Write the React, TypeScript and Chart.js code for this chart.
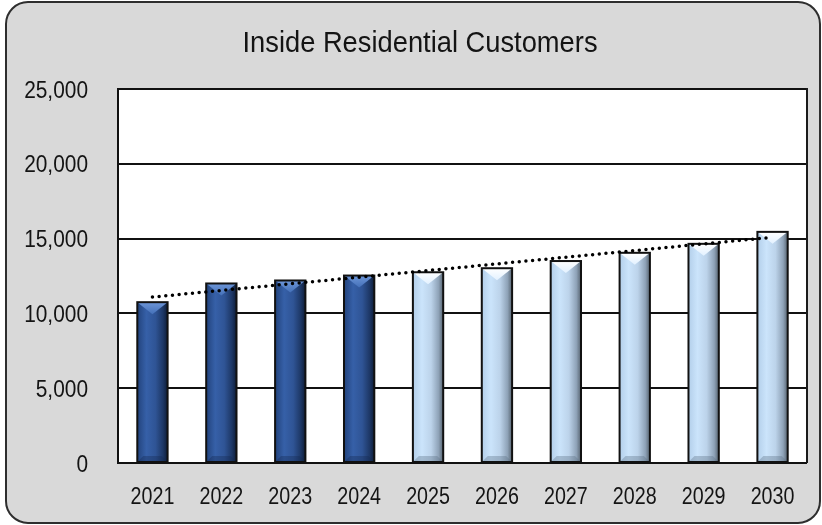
import React, { useEffect, useRef } from "react";
import { Chart, registerables } from "chart.js";

Chart.register(...registerables);

const years = ["2021", "2022", "2023", "2024", "2025", "2026", "2027", "2028", "2029", "2030"];
const customers = [10750, 12000, 12200, 12530, 12750, 13020, 13500, 14050, 14650, 15450];
const trend = [11090, 11535, 11980, 12420, 12865, 13310, 13755, 14200, 14645, 15090];
const historicalCount = 4;
const yTicks = [0, 5000, 10000, 15000, 20000, 25000];
const titleText = "Inside Residential Customers";

const FONT = "'Liberation Sans', Arial, sans-serif";

function narrowText(ctx: any, text: string, x: number, y: number, size: number, sx: number, align: string) {
  ctx.save();
  ctx.font = `${size}px ${FONT}`;
  ctx.fillStyle = "#141414";
  ctx.textBaseline = "alphabetic";
  ctx.textAlign = align;
  ctx.translate(x, y);
  ctx.scale(sx, 1);
  ctx.fillText(text, 0, 0);
  ctx.restore();
}

const framePlugin = {
  id: "frame",
  beforeDraw(chart: any) {
    const { ctx, chartArea } = chart;
    ctx.save();
    ctx.beginPath();
    ctx.roundRect(6, 2, 814, 521, 22);
    ctx.fillStyle = "#d9d9d9";
    ctx.fill();
    ctx.lineWidth = 2;
    ctx.strokeStyle = "#2e2e2e";
    ctx.stroke();
    ctx.fillStyle = "#ffffff";
    ctx.fillRect(chartArea.left, chartArea.top, chartArea.right - chartArea.left, chartArea.bottom - chartArea.top);
    ctx.restore();
  },
  beforeDatasetsDraw(chart: any) {
    const { ctx, chartArea } = chart;
    ctx.save();
    ctx.strokeStyle = "#1a1a1a";
    ctx.lineWidth = 2;
    ctx.beginPath();
    ctx.moveTo(chartArea.right, chartArea.top - 1);
    ctx.lineTo(chartArea.right, chartArea.bottom);
    ctx.stroke();
    ctx.restore();
  },
  afterDatasetDraw(chart: any, args: any) {
    if (args.index !== 0) return;
    const { ctx } = chart;
    args.meta.data.forEach((el: any, i: number) => {
      const dark = i < historicalCount;
      const left = el.x - el.width / 2;
      const right = el.x + el.width / 2;
      const top = el.y;
      const bottom = el.base;
      const w = right - left;
      const h = bottom - top;
      ctx.save();
      const g = ctx.createLinearGradient(left, 0, right, 0);
      if (dark) {
        g.addColorStop(0, "#22437c");
        g.addColorStop(0.3, "#3660a8");
        g.addColorStop(0.6, "#2f5495");
        g.addColorStop(0.85, "#1d3765");
        g.addColorStop(1, "#0e1d38");
      } else {
        g.addColorStop(0, "#b3cfea");
        g.addColorStop(0.3, "#cbe4fb");
        g.addColorStop(0.6, "#bcd3ea");
        g.addColorStop(0.85, "#8ea2b7");
        g.addColorStop(1, "#56636f");
      }
      ctx.fillStyle = g;
      ctx.fillRect(left, top, w, h);
      const ch = Math.min(12, h / 2);
      const vg = ctx.createLinearGradient(0, top, 0, top + ch);
      if (dark) {
        vg.addColorStop(0, "#6d96d8");
        vg.addColorStop(1, "#4470b8");
      } else {
        vg.addColorStop(0, "#ffffff");
        vg.addColorStop(1, "#e2f1ff");
      }
      ctx.fillStyle = vg;
      ctx.beginPath();
      ctx.moveTo(left, top);
      ctx.lineTo(right, top);
      ctx.lineTo(el.x, top + ch);
      ctx.closePath();
      ctx.fill();
      ctx.fillStyle = dark ? "rgba(20,40,80,0.35)" : "rgba(90,110,130,0.35)";
      ctx.beginPath();
      ctx.moveTo(left, bottom);
      ctx.lineTo(right, bottom);
      ctx.lineTo(right - 6, bottom - 6);
      ctx.lineTo(left + 6, bottom - 6);
      ctx.closePath();
      ctx.fill();
      ctx.lineWidth = 2;
      ctx.strokeStyle = "#111111";
      ctx.strokeRect(left, top, w, h);
      ctx.restore();
    });
  },
  afterDraw(chart: any) {
    const { ctx } = chart;
    const xs = chart.scales.x;
    const ys = chart.scales.y;
    narrowText(ctx, titleText, 420, 52, 30, 0.91, "center");
    yTicks.forEach((v) => {
      narrowText(ctx, v.toLocaleString("en-US"), 88, ys.getPixelForValue(v) + 8.5, 24, 0.87, "right");
    });
    years.forEach((lab, i) => {
      narrowText(ctx, lab, xs.getPixelForValue(i), 504, 24, 0.82, "center");
    });
  },
};

export default function App() {
  const ref = useRef<HTMLCanvasElement | null>(null);
  useEffect(() => {
    document.body.style.margin = "0";
    const canvas = ref.current;
    if (!canvas) return;
    const chart = new Chart(canvas, {
      type: "bar",
      data: {
        labels: years,
        datasets: [
          {
            type: "bar",
            label: "Customers",
            data: customers,
            backgroundColor: "#3560a8",
            borderWidth: 0,
            barPercentage: 0.44,
            categoryPercentage: 1,
            order: 2,
          },
          {
            type: "line",
            label: "Trend",
            data: trend,
            borderColor: "#000000",
            borderWidth: 3.5,
            borderDash: [0, 6.7],
            borderCapStyle: "round",
            pointRadius: 0,
            fill: false,
            tension: 0,
            order: 1,
          } as any,
        ],
      },
      options: {
        responsive: false,
        animation: false,
        layout: { padding: { left: 0, right: 15, top: 89, bottom: 0 } },
        plugins: {
          legend: { display: false },
          tooltip: { enabled: false },
          title: { display: false },
        },
        scales: {
          x: {
            grid: { display: false },
            border: { display: false },
            ticks: { display: false },
            afterFit(scale: any) {
              scale.height = 62;
            },
          },
          y: {
            min: 0,
            max: 25000,
            afterBuildTicks(scale: any) {
              scale.ticks = yTicks.map((v) => ({ value: v }));
            },
            grid: { color: "#111111", lineWidth: 2, drawTicks: false },
            border: { display: true, color: "#111111", width: 2 },
            ticks: { display: false },
            afterFit(scale: any) {
              scale.width = 118;
            },
          },
        },
      },
      plugins: [framePlugin],
    });
    return () => chart.destroy();
  }, []);
  return (
    <div style={{ width: 822, height: 525 }}>
      <canvas ref={ref} width={822} height={525} style={{ display: "block" }} />
    </div>
  );
}
